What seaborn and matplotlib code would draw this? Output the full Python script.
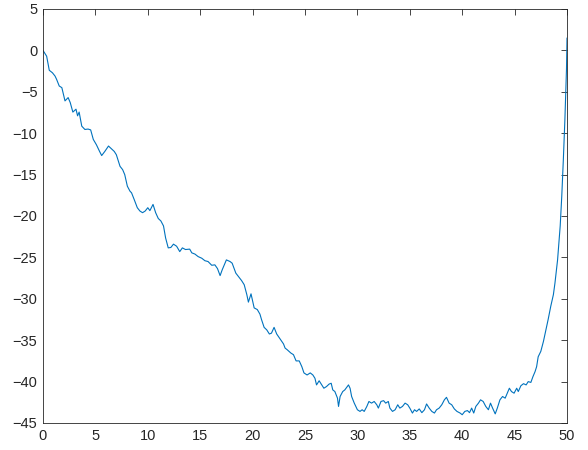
import matplotlib
matplotlib.use('Agg')
import matplotlib.pyplot as plt
import seaborn as sns

# values
t = [0, 0.35, 0.6, 0.9, 1.15, 1.3, 1.55, 1.8, 2.1, 2.4, 2.6, 2.85, 3.15, 3.3, 3.45,
     3.7, 4.0, 4.3, 4.55, 4.8, 5.1, 5.4, 5.6, 5.9, 6.25, 6.55, 6.8, 7.0, 7.35, 7.6,
     7.8, 8.05, 8.3, 8.45, 8.7, 9.0, 9.25, 9.5, 9.75, 10.0, 10.2, 10.5, 10.75, 11.0,
     11.25, 11.5, 11.7, 11.95, 12.2, 12.45, 12.75, 13.05, 13.3, 13.6, 14.0, 14.2,
     14.5, 14.8, 15.15, 15.45, 15.75, 16.1, 16.4, 16.65, 16.9, 17.1, 17.5, 17.85,
     18.05, 18.4, 18.65, 18.95, 19.2, 19.45, 19.6, 19.85, 20.15, 20.45, 20.7, 20.85,
     21.1, 21.35, 21.6, 21.8, 22.05, 22.3, 22.6, 22.95, 23.1, 23.3, 23.65, 23.9,
     24.15, 24.45, 24.7, 24.9, 25.2, 25.5, 25.75, 25.95, 26.1, 26.35, 26.6, 26.8,
     27.05, 27.3, 27.5, 27.65, 27.85, 28.1, 28.2, 28.35, 28.6, 28.8, 29.15, 29.3,
     29.45, 29.7, 30.0, 30.25, 30.45, 30.65, 30.9, 31.1, 31.35, 31.6, 31.85, 32.0,
     32.25, 32.5, 32.7, 32.95, 33.1, 33.35, 33.6, 33.85, 34.05, 34.3, 34.55, 34.8,
     35.0, 35.25, 35.45, 35.65, 35.9, 36.15, 36.4, 36.6, 36.85, 37.1, 37.35, 37.55,
     37.8, 38.05, 38.3, 38.5, 38.75, 39.0, 39.25, 39.5, 39.8, 40.0, 40.25, 40.5,
     40.7, 40.9, 41.1, 41.3, 41.55, 41.75, 42.0, 42.25, 42.5, 42.7, 42.9, 43.15,
     43.35, 43.6, 43.85, 44.1, 44.3, 44.5, 44.7, 44.95, 45.2, 45.35, 45.6, 45.85,
     46.1, 46.3, 46.55, 46.75, 46.95, 47.1, 47.25, 47.5, 47.75, 48.0, 48.2, 48.45,
     48.7, 48.85, 49.1, 49.35, 49.5, 49.65, 49.8, 49.95, 50.0]
val = [0, -0.7, -2.4, -2.7, -3.1, -3.5, -4.3, -4.5, -6.1, -5.7, -6.3, -7.45, -7.1,
       -7.9, -7.45, -9.15, -9.55, -9.5, -9.6, -10.75, -11.4, -12.2, -12.7, -12.2,
       -11.55, -11.9, -12.2, -12.6, -14.0, -14.4, -15.0, -16.4, -17.0, -17.2, -18.0,
       -19.0, -19.4, -19.6, -19.4, -19.0, -19.35, -18.6, -19.6, -20.3, -20.6, -21.2,
       -22.65, -23.85, -23.8, -23.4, -23.65, -24.3, -23.85, -24.05, -24.0, -24.45,
       -24.6, -24.9, -25.1, -25.4, -25.5, -25.95, -25.9, -26.35, -27.2, -26.5, -25.3,
       -25.5, -25.7, -26.9, -27.3, -27.8, -28.3, -29.5, -30.4, -29.4, -31.1, -31.3,
       -31.85, -32.5, -33.45, -33.75, -34.25, -34.15, -33.45, -34.25, -34.8, -35.45,
       -35.95, -36.15, -36.55, -36.75, -37.5, -37.5, -38.2, -38.95, -39.2, -38.95,
       -39.2, -39.6, -40.4, -39.9, -40.4, -40.8, -40.6, -40.3, -40.2, -41.0, -41.2,
       -42.0, -43.0, -41.8, -41.2, -41.0, -40.4, -40.8, -41.8, -42.6, -43.4, -43.6,
       -43.4, -43.6, -43.0, -42.4, -42.6, -42.4, -42.8, -43.2, -42.4, -42.3, -42.6,
       -42.4, -43.2, -43.6, -43.4, -42.8, -43.2, -43.0, -42.6, -42.8, -43.2, -43.8,
       -43.4, -43.6, -43.3, -43.75, -43.4, -42.7, -43.2, -43.6, -43.8, -43.4, -43.2,
       -42.8, -42.2, -41.9, -42.6, -42.8, -43.3, -43.6, -43.8, -44.0, -43.6, -43.5,
       -43.75, -43.2, -43.8, -43.0, -42.6, -42.2, -42.4, -43.0, -43.4, -42.6, -43.2,
       -43.9, -43.2, -42.2, -41.8, -42.0, -41.4, -40.8, -41.2, -41.4, -40.8, -41.2,
       -40.5, -40.25, -40.4, -40.0, -40.1, -39.4, -38.8, -38.2, -37.0, -36.35,
       -35.15, -33.7, -32.5, -30.9, -29.5, -28.1, -25.3, -21.2, -17.6, -13.2, -8.3,
       -2.3, 1.5]

x_ticks = [0, 5, 10, 15, 20, 25, 30, 35, 40, 45, 50]
y_ticks = [5, 0, -5, -10, -15, -20, -25, -30, -35, -40, -45]

sns.set_style('white')
plt.rcParams['font.family'] = ['Liberation Sans', 'DejaVu Sans']

fig = plt.figure(figsize=(5.88, 4.5), dpi=100)
ax = fig.add_axes([0.0731, 0.06, 0.8912, 0.92])

sns.lineplot(x=t, y=val, ax=ax, color='#0072BD', linewidth=0.8,
             estimator=None, sort=False)

ax.set_xlim(0, 50)
ax.set_ylim(-45, 5)
ax.set_xticks(x_ticks)
ax.set_yticks(y_ticks)
ax.tick_params(direction='in', length=4, width=0.6, colors='#262626',
               labelsize=10.5, top=True, right=True, pad=4)
for s in ax.spines.values():
    s.set_visible(True)
    s.set_color('#262626')
    s.set_linewidth(0.6)

fig.savefig('out.png', dpi=100)
